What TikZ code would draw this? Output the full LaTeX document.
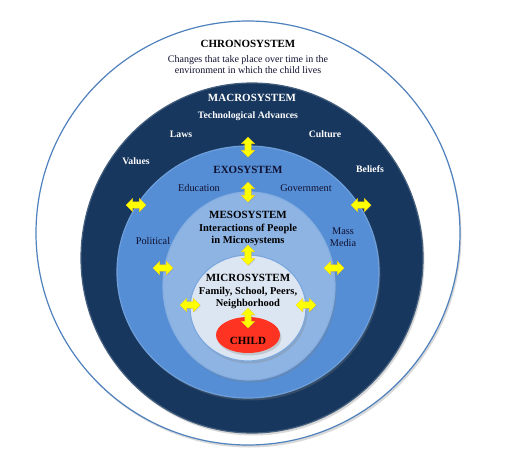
\documentclass[tikz,border=0pt]{standalone}
\usepackage{fontspec}
\setmainfont{Liberation Serif}
\usetikzlibrary{shapes.geometric, shapes.arrows, shadows, positioning}

\definecolor{chronoline}{HTML}{4F81BD}
\definecolor{macrofill}{HTML}{17375E}
\definecolor{exofill}{HTML}{558ED5}
\definecolor{mesofill}{HTML}{8EB4E3}
\definecolor{microfill}{HTML}{DCE6F2}
\definecolor{childfill}{HTML}{FF3322}
\definecolor{arrowfill}{HTML}{FFFF00}
\definecolor{inktext}{HTML}{101030}

\begin{document}
\begin{tikzpicture}[
      x=1pt, y=-1pt,
      ring/.style  ={ellipse, inner sep=0pt, line width=1.2pt,
                     drop shadow={shadow xshift=1.5pt, shadow yshift=-2.5pt, opacity=0.3}},
      title/.style ={font=\bfseries\fontsize{11}{12}\selectfont, text=inktext},
      body/.style  ={font=\fontsize{10}{11}\selectfont, align=center, text=inktext},
      macit/.style ={font=\bfseries\fontsize{9.8}{11}\selectfont, text=white},
      exit/.style  ={font=\fontsize{10.3}{12}\selectfont, align=center, text=inktext},
      inner/.style ={font=\bfseries\fontsize{10.5}{12}\selectfont, align=center, text=black},
      arr/.style   ={double arrow, fill=arrowfill, draw=yellow!70!orange, line width=0.3pt,
                     minimum height=20pt, double arrow head extend=3.5pt, inner sep=3pt,
                     drop shadow={shadow xshift=0.8pt, shadow yshift=-0.8pt, opacity=0.3}},
      varr/.style  ={arr, rotate=90}
    ]
    \useasboundingbox (0,0) rectangle (515,458);

    % Systemringer
    \node[ring, draw=chronoline, fill=white, minimum width=424pt, minimum height=424pt] (CS) at (248,233) {};
    \node[ring, draw=macrofill!80!white, fill=macrofill, minimum width=342pt, minimum height=350pt] (MA) at (252,258) {};
    \node[ring, draw=exofill!85!white, fill=exofill, minimum width=262pt, minimum height=252pt] (EX) at (248,272) {};
    \node[ring, draw=mesofill!85!exofill, fill=mesofill, minimum width=172pt, minimum height=188pt] (ME) at (249,286) {};
    \node[ring, draw=mesofill!70!exofill, fill=microfill, minimum width=116pt, minimum height=106pt] (MI) at (248,308) {};
    \node[ring, draw=none, fill=childfill, minimum width=64pt, minimum height=36pt] (CH) at (248,335) {};

    % Kronosystem
    \node[title, text=black] (csT) at (248,44) {CHRONOSYSTEM};
    \node[body, below=1pt of csT] (csB) {Changes that take place over time in the\\environment in which the child lives};

    % Makrosystem
    \node[title, text=white] (maT) at (252,98) {MACROSYSTEM};
    \node[macit] (tech) at (248,116) {Technological Advances};
    \node[macit] (laws) at (181,134) {Laws};
    \node[macit] (cult) at (325,134) {Culture};
    \node[macit] (vals) at (136,161) {Values};
    \node[macit] (blfs) at (370,169) {Beliefs};

    % Eksosystem
    \node[title] (exT) at (248,170) {EXOSYSTEM};
    \node[exit] (educ) at (199,188) {Education};
    \node[exit] (govt) at (306,188) {Government};
    \node[exit] (polt) at (153,241) {Political};
    \node[exit] (mmed) at (343,237) {Mass\\Media};

    % Mesosystem og mikrosystem
    \node[title, text=black] (meT) at (248,215) {MESOSYSTEM};
    \node[inner] (meB) at (248,235) {Interactions of People\\in Microsystems};
    \node[title, text=black] (miT) at (248,278) {MICROSYSTEM};
    \node[inner] (miB) at (248,298) {Family, School, Peers,\\Neighborhood};
    \node[title, text=black] (chT) at ([yshift=-6pt]CH.center) {CHILD};

    % Gule piler mellom ringene
    \node[varr] (a1) at (248,147) {};
    \node[varr] (a2) at (248,192) {};
    \node[varr] (a3) at (248,255) {};
    \node[varr] (a4) at (248,318) {};
    \node[arr]  (h1) at (136,205) {};
    \node[arr]  (h2) at (361,205) {};
    \node[arr]  (h3) at (163,268) {};
    \node[arr]  (h4) at (334,268) {};
    \node[arr]  (h5) at (190,305) {};
    \node[arr]  (h6) at (306,305) {};

  \end{tikzpicture}
\end{document}
